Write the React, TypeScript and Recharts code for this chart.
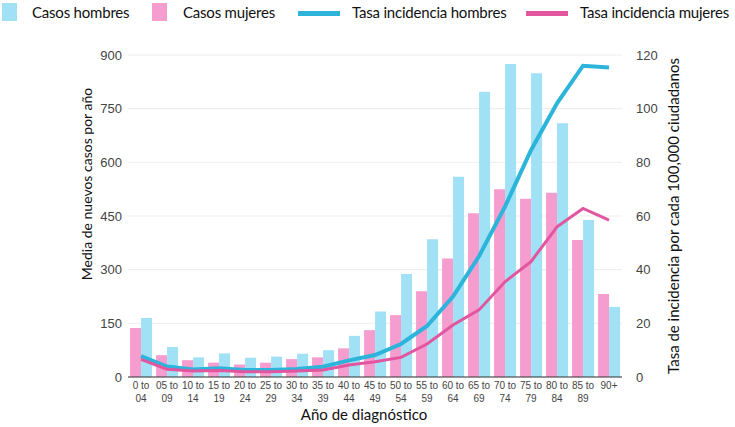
import React from "react";
import {
  ComposedChart,
  Bar,
  Line,
  XAxis,
  YAxis,
  CartesianGrid,
} from "recharts";

// age groups on the x axis
const ageGroups = [
  "0 to 04", "05 to 09", "10 to 14", "15 to 19", "20 to 24", "25 to 29",
  "30 to 34", "35 to 39", "40 to 44", "45 to 49", "50 to 54", "55 to 59",
  "60 to 64", "65 to 69", "70 to 74", "75 to 79", "80 to 84", "85 to 89", "90+",
];

// average new cases per year
const casosMujeres = [137, 61, 47, 40, 35, 40, 50, 55, 80, 131, 173, 240, 331, 458, 525, 498, 515, 383, 232];
const casosHombres = [165, 84, 55, 66, 54, 57, 65, 75, 115, 183, 288, 385, 560, 797, 875, 849, 709, 439, 196];

// incidence per 100,000
const tasaHombres = [7.8, 3.9, 2.8, 3.3, 2.6, 2.6, 3.0, 3.8, 6.2, 8.2, 12.3, 19, 30, 45, 63.5, 84.5, 102, 116, 115.3];
const tasaMujeres = [6.6, 2.9, 2.2, 2.4, 2.0, 2.0, 2.2, 2.6, 4.5, 5.7, 7.3, 12.3, 19.4, 25, 35.5, 43, 56, 62.8, 58.5];

const leftTicks = [0, 150, 300, 450, 600, 750, 900];
const rightTicks = [0, 20, 40, 60, 80, 100, 120];

const data = ageGroups.map((g, i) => ({
  group: g,
  mujeres: casosMujeres[i],
  hombres: casosHombres[i],
  tasaH: tasaHombres[i],
  tasaM: tasaMujeres[i],
}));

const CYAN = "#a0e1f5";
const PINK = "#f59dcf";
const BLUE_LINE = "#2cb4da";
const PINK_LINE = "#e2559f";
const TITLE_FONT = "Lato, 'Open Sans', sans-serif";
const TICK_FONT = "'Liberation Sans', Arial, sans-serif";

function AgeTick({ x, y, payload }: any) {
  const parts = String(payload.value).split(" to ");
  return (
    <text x={x} y={y} textAnchor="middle" fontSize={10} fill="#444" fontFamily={TICK_FONT}>
      <tspan x={x} dy={4}>{parts.length > 1 ? parts[0] + " to" : parts[0]}</tspan>
      {parts.length > 1 && (
        <tspan x={x} dy={13}>{parts[1]}</tspan>
      )}
    </text>
  );
}

function LegendItems() {
  const text: React.CSSProperties = {
    position: "absolute",
    top: 2,
    fontSize: 15,
    letterSpacing: -0.2,
    lineHeight: "20px",
    color: "#111",
    fontFamily: TITLE_FONT,
    whiteSpace: "nowrap",
  };
  const box = (left: number, color: string): React.CSSProperties => ({
    position: "absolute", left, top: 3, width: 15, height: 18, background: color,
  });
  const bar = (left: number, color: string): React.CSSProperties => ({
    position: "absolute", left, top: 11, width: 42, height: 5, background: color,
  });
  return (
    <>
      <div style={box(2, CYAN)} />
      <div style={{ ...text, left: 32 }}>Casos hombres</div>
      <div style={box(152, PINK)} />
      <div style={{ ...text, left: 183 }}>Casos mujeres</div>
      <div style={bar(298, BLUE_LINE)} />
      <div style={{ ...text, left: 352 }}>Tasa incidencia hombres</div>
      <div style={bar(526, PINK_LINE)} />
      <div style={{ ...text, left: 580 }}>Tasa incidencia mujeres</div>
    </>
  );
}

export default function App() {
  return (
    <div style={{ position: "absolute", left: 0, top: 0, width: 735, height: 427, background: "#fff" }}>
      <LegendItems />
      <ComposedChart
        width={735}
        height={427}
        data={data}
        margin={{ top: 55, right: 0, bottom: 0, left: 0 }}
        barCategoryGap="8%"
        barGap={0}
        style={{ position: "absolute", left: 0, top: 0 }}
      >
        <CartesianGrid vertical={false} stroke="#ededed" yAxisId="left" />
        <XAxis
          dataKey="group"
          interval={0}
          height={50}
          tick={<AgeTick />}
          tickLine={false}
          axisLine={{ stroke: "#333" }}
          label={{
            content: () => (
              <text x={364} y={420} textAnchor="middle" fontSize={15} fill="#111" fontFamily={TITLE_FONT}>
                Año de diagnóstico
              </text>
            ),
          }}
        />
        <YAxis
          yAxisId="left"
          width={128}
          domain={[0, 900]}
          ticks={leftTicks}
          tick={{ fill: "#444", fontSize: 13, fontFamily: TICK_FONT, dx: 2 }}
          tickLine={false}
          axisLine={false}
          label={{
            content: () => (
              <text
                x={86}
                y={184}
                transform="rotate(-90, 86, 184)"
                textAnchor="middle"
                dominantBaseline="central"
                fontSize={14}
                fill="#111"
                fontFamily={TITLE_FONT}
              >
                Media de nuevos casos por año
              </text>
            ),
          }}
        />
        <YAxis
          yAxisId="right"
          orientation="right"
          width={113}
          domain={[0, 120]}
          ticks={rightTicks}
          tick={{ fill: "#444", fontSize: 13, fontFamily: TICK_FONT, textAnchor: "start", dx: 6 }}
          tickLine={false}
          axisLine={false}
          label={{
            content: () => (
              <text
                x={673}
                y={216}
                transform="rotate(-90, 673, 216)"
                textAnchor="middle"
                dominantBaseline="central"
                fontSize={15}
                fill="#111"
                fontFamily={TITLE_FONT}
              >
                Tasa de incidencia por cada 100,000 ciudadanos
              </text>
            ),
          }}
        />
        <Bar yAxisId="left" dataKey="mujeres" fill={PINK} isAnimationActive={false} />
        <Bar yAxisId="left" dataKey="hombres" fill={CYAN} isAnimationActive={false} />
        <Line
          yAxisId="right"
          dataKey="tasaH"
          stroke={BLUE_LINE}
          strokeWidth={4}
          dot={false}
          type="linear"
          isAnimationActive={false}
        />
        <Line
          yAxisId="right"
          dataKey="tasaM"
          stroke={PINK_LINE}
          strokeWidth={3}
          dot={false}
          type="linear"
          isAnimationActive={false}
        />
      </ComposedChart>
    </div>
  );
}
